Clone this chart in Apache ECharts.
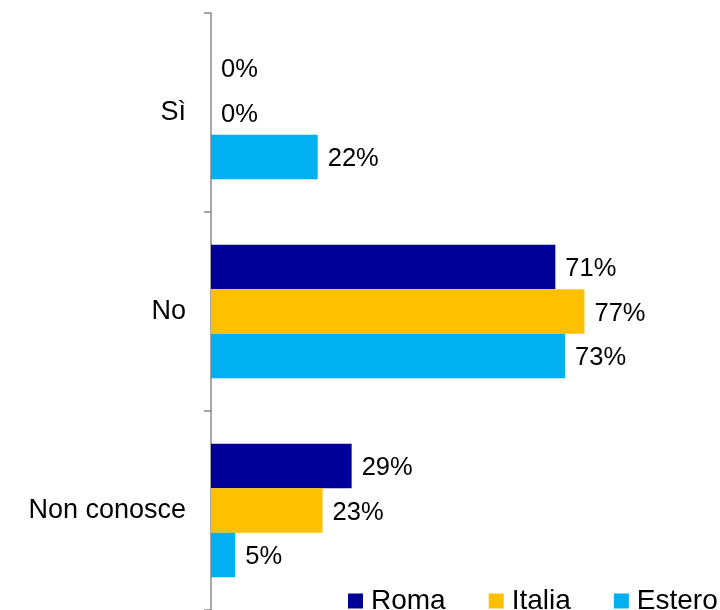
<!DOCTYPE html>
<html>
<head>
<meta charset="utf-8">
<script src="https://cdn.jsdelivr.net/npm/echarts@6/dist/echarts.min.js"></script>
<style>html,body{margin:0;padding:0;background:#fff}#c{width:720px;height:610px}</style>
</head>
<body>
<div id="c"></div>
<script>
const categories = ['Sì', 'No', 'Non conosce'];
const seriesNames = ['Roma', 'Italia', 'Estero'];
const roma = [0, 71, 29];
const italia = [0, 77, 23];
const estero = [22, 73, 5];
const colors = ['#000099', '#FFC000', '#00B0F0'];
const values = [roma, italia, estero];
const FONT = '"Liberation Sans", Arial, sans-serif';

const chart = echarts.init(document.getElementById('c'), null, {renderer: 'canvas'});
chart.setOption({
  animation: false,
  backgroundColor: '#ffffff',
  grid: {left: 211, right: 24, top: 13, bottom: 0, containLabel: false},
  xAxis: {
    type: 'value', min: 0, max: 100, show: false
  },
  yAxis: {
    type: 'category', data: categories, inverse: true,
    axisLine: {show: true, lineStyle: {color: '#888888', width: 1.5}},
    axisTick: {show: true, length: 7, lineStyle: {color: '#888888', width: 1.5}},
    axisLabel: {color: '#000', fontSize: 27, fontFamily: FONT, margin: 25, padding: [5, 0, 0, 0]},
    splitLine: {show: false}
  },
  legend: {
    data: seriesNames, left: 343, top: 582, width: 700, icon: 'rect',
    itemWidth: 15, itemHeight: 15, itemGap: 43,
    textStyle: {color: '#000', fontSize: 28, fontFamily: FONT, padding: [0, 0, 0, 3]}
  },
  series: seriesNames.map((n, i) => ({
    name: n, type: 'bar', data: values[i],
    barGap: '0%', barCategoryGap: '33%',
    itemStyle: {color: colors[i]},
    label: {show: true, position: 'right', distance: 10, offset: [0, 2], formatter: '{c}%', color: '#000', fontSize: 25.5, fontFamily: FONT}
  }))
});
</script>
</body>
</html>
